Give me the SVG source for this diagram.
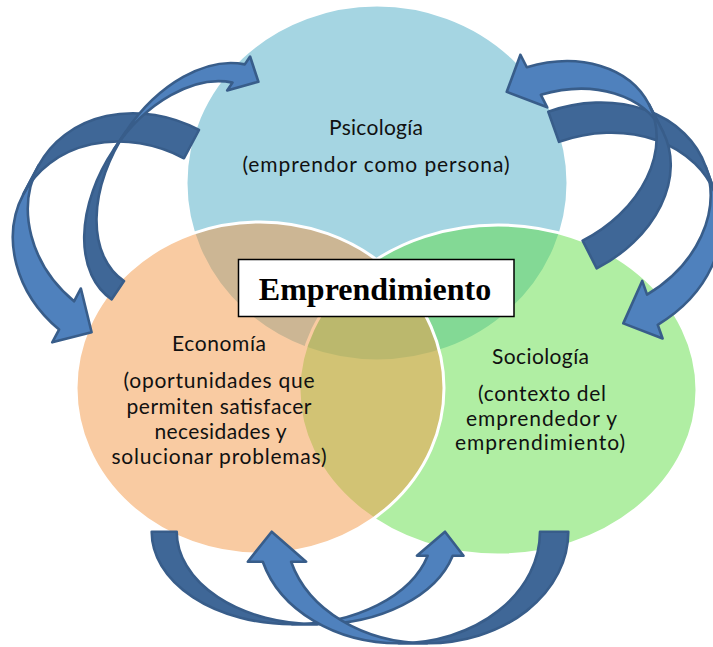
<svg xmlns="http://www.w3.org/2000/svg" width="713" height="647" viewBox="0 0 713 647">
<style>
.circle{stroke:#ffffff;stroke-width:3;fill-opacity:0.5}
.lbl{font-family:Lato,"Noto Sans","Liberation Sans",sans-serif;font-size:21px;fill:#111111;text-anchor:middle}
.title{font-family:"Liberation Serif","Times New Roman",serif;font-weight:bold;font-size:32px;fill:#000000;text-anchor:middle}
.light{fill:#4f81bd;stroke:#385d8a;stroke-width:2.6;stroke-linejoin:round}
.dark{fill:#3f6797;stroke:#385d8a;stroke-width:2.6;stroke-linejoin:round}
</style>
<rect width="713" height="647" fill="#ffffff"/>
<g id="psicologia">
<ellipse class="circle" cx="377" cy="183" rx="191" ry="178" fill="#4bacc6"/>
<text class="lbl" x="376" y="135" textLength="94">Psicología</text>
<text class="lbl" x="376" y="172" textLength="267">(emprendor como persona)</text>
</g>
<g id="sociologia">
<ellipse class="circle" cx="498" cy="390" rx="199" ry="165" fill="#61dd47"/>
<text class="lbl" x="540.5" y="363.5" textLength="97">Sociología</text>
<text class="lbl" x="542" y="401" textLength="128">(contexto del</text>
<text class="lbl" x="541.5" y="425.5" textLength="151">emprendedor y</text>
<text class="lbl" x="540" y="450" textLength="170">emprendimiento)</text>
</g>
<g id="economia">
<ellipse class="circle" cx="260" cy="388" rx="184" ry="166" fill="#f39745"/>
<text class="lbl" x="219" y="351" textLength="94">Economía</text>
<text class="lbl" x="219" y="388" textLength="191">(oportunidades que</text>
<text class="lbl" x="219" y="413.5" textLength="185">permiten satisfacer</text>
<text class="lbl" x="220.5" y="438.5" textLength="132">necesidades y</text>
<text class="lbl" x="219" y="464" textLength="215">solucionar problemas)</text>
</g>
<g id="connectors">
<g id="arrow-a" transform="matrix(0.883,0.469,-0.469,0.883,199,130)">
<path class="light" d="M -125,138.5 A 125 106.5 0 0 0 -30,241.9 L -30,256.4 L 0,229 L -30,195.4 L -30,209.9 A 125 106.5 0 0 1 -125,106.5 Z"/>
<path class="dark" d="M 0,0 A 125 106.5 0 0 0 -125,106.5 L -125,138.5 A 125 106.5 0 0 1 0,32 Z"/>
</g>
<g id="arrow-b" transform="matrix(0.829,0.559,0.559,-0.829,111.7,299.3)">
<path class="light" d="M -82,147.7 A 82 125.7 0 0 0 -21,269.2 L -21,278.7 L 0,262.4 L -21,237.7 L -21,247.2 A 82 125.7 0 0 1 -82,125.7 Z"/>
<path class="dark" d="M 0,0 A 82 125.7 0 0 0 -82,125.7 L -82,147.7 A 82 125.7 0 0 1 0,22 Z"/>
</g>
<g id="arrow-d" transform="matrix(-0.943,0.334,0.334,0.943,548.3,111.7)">
<path class="light" d="M -130,136.25 A 130 104.25 0 0 0 -32,237.3 L -32,251.8 L 0,224.5 L -32,190.8 L -32,205.3 A 130 104.25 0 0 1 -130,104.25 Z"/>
<path class="dark" d="M 0,0 A 130 104.25 0 0 0 -130,104.25 L -130,136.25 A 130 104.25 0 0 1 0,32 Z"/>
</g>
<g id="arrow-c" transform="matrix(-0.891,0.454,-0.454,-0.891,596.7,268.3)">
<path class="light" d="M -121,122.3 A 121 91.3 0 0 0 -29,210.9 L -29,224.9 L 0,198.1 L -29,165.9 L -29,179.9 A 121 91.3 0 0 1 -121,91.3 Z"/>
<path class="dark" d="M 0,0 A 121 91.3 0 0 0 -121,91.3 L -121,122.3 A 121 91.3 0 0 1 0,31 Z"/>
</g>
<g id="arrow-e" transform="matrix(0,-1,1,0,151.7,531.7)">
<path class="light" d="M -92.5,165.4 A 92.5 140.4 0 0 0 -24,301 L -24,311.8 L 0,293.3 L -24,265.2 L -24,276 A 92.5 140.4 0 0 1 -92.5,140.4 Z"/>
<path class="dark" d="M 0,0 A 92.5 140.4 0 0 0 -92.5,140.4 L -92.5,165.4 A 92.5 140.4 0 0 1 0,25 Z"/>
</g>
<g id="arrow-f" transform="matrix(0,-1,-1,0,568.3,531.7)">
<path class="light" d="M -111.6,169.5 A 111.6 141.2 0 0 0 -30,305.5 L -30,320.5 L 0,296.6 L -30,262.2 L -30,277.2 A 111.6 141.2 0 0 1 -111.6,141.2 Z"/>
<path class="dark" d="M 0,0 A 111.6 141.2 0 0 0 -111.6,141.2 L -111.6,169.5 A 111.6 141.2 0 0 1 0,28.3 Z"/>
</g>
</g>
<g id="emprendimiento">
<rect x="238.5" y="259.5" width="275.5" height="57" fill="#ffffff" stroke="#000000" stroke-width="1.5"/>
<text class="title" x="375" y="299.5">Emprendimiento</text>
</g>
</svg>
